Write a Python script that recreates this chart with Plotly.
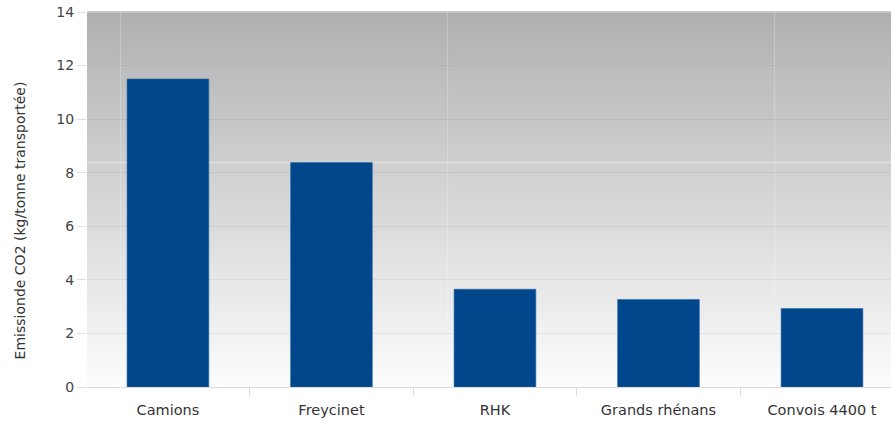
import plotly.graph_objects as go

# CO2 emissions per tonne carried, by transport mode
categories = ["Camions", "Freycinet", "RHK", "Grands rhénans", "Convois 4400 t"]
emissions = [11.5, 8.38, 3.65, 3.27, 2.93]
y_ticks = [0, 2, 4, 6, 8, 10, 12, 14]
y_title = "Emissionde CO2 (kg/tonne transportée)"

BAR_COLOR = "#00468a"
FONT = "'DejaVu Sans', Verdana, sans-serif"

fig = go.Figure()
fig.add_trace(go.Bar(
    x=categories,
    y=emissions,
    marker=dict(color=BAR_COLOR, line=dict(color="#2f6aa8", width=0.6)),
    width=0.5,
    hoverinfo="x+y",
))

shapes = []
# vertical grey gradient behind the plot area (dark at top, near white at bottom)
n_strips = 80
top_c, bot_c = 176, 252
for i in range(n_strips):
    t0 = i / n_strips
    t1 = (i + 1) / n_strips
    frac = (i + 0.5) / n_strips  # 0 at bottom, 1 at top
    v = round(bot_c + (top_c - bot_c) * frac)
    shapes.append(dict(
        type="rect", xref="paper", yref="paper",
        x0=0, x1=1, y0=t0, y1=t1 + 0.002,
        fillcolor=f"rgb({v},{v},{v})", line=dict(width=0), layer="below",
    ))

# faint vertical guide lines
for xv in [-0.29, 1.71, 3.71]:
    shapes.append(dict(
        type="line", xref="x", yref="paper", x0=xv, x1=xv, y0=0, y1=1,
        line=dict(color="rgba(255,255,255,0.22)", width=1.2), layer="below",
    ))

# light reference line at the Freycinet level
shapes.append(dict(
    type="line", xref="paper", yref="y", x0=0, x1=1,
    y0=emissions[1], y1=emissions[1],
    line=dict(color="rgba(255,255,255,0.38)", width=1.5), layer="below",
))

# thin top border of the plot area
shapes.append(dict(
    type="line", xref="paper", yref="paper", x0=0, x1=1, y0=1, y1=1,
    line=dict(color="#d6d6d6", width=1), layer="above",
))

fig.update_layout(
    width=891,
    height=423,
    margin=dict(l=87, r=0, t=12, b=36),
    paper_bgcolor="white",
    plot_bgcolor="rgba(0,0,0,0)",
    showlegend=False,
    shapes=shapes,
    font=dict(family=FONT, color="#444444", size=13),
    bargap=0.5,
    annotations=[dict(
        text=y_title,
        xref="paper", yref="paper",
        x=-0.083, y=0.445,
        xanchor="center", yanchor="middle",
        textangle=-90,
        showarrow=False,
        font=dict(size=14, color="#333333"),
    )],
)

fig.update_xaxes(
    type="category",
    range=[-0.495, 4.422],
    showgrid=False,
    showline=True,
    linecolor="#dcdcdc",
    linewidth=1,
    ticks="outside",
    tickson="boundaries",
    ticklen=8,
    tickcolor="#dcdcdc",
    ticklabelstandoff=10,
    tickfont=dict(size=14.5, color="#333333"),
)

fig.update_yaxes(
    range=[0, 14],
    tickvals=y_ticks,
    showgrid=True,
    gridcolor="rgba(110,110,110,0.10)",
    gridwidth=1,
    zeroline=False,
    ticks="outside",
    ticklen=9,
    tickcolor="#dedede",
    tickfont=dict(size=14, color="#444444"),
)

fig.write_html("out.html")
